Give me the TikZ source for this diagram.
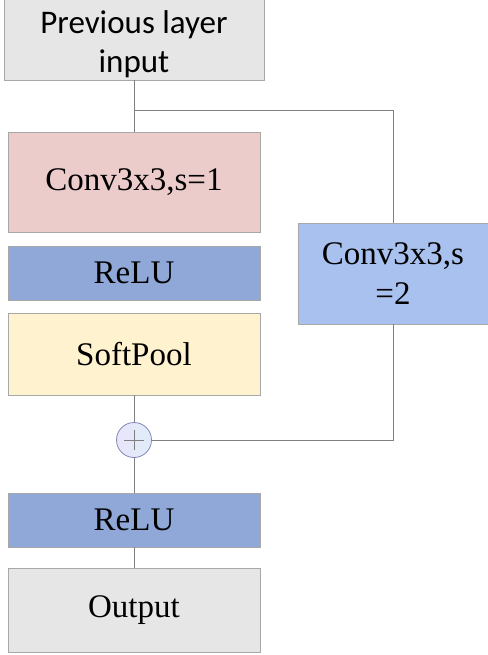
\documentclass[tikz,border=0pt]{standalone}
\usepackage{fontspec}
\setmainfont{Liberation Serif}
\newfontfamily\labelsans{Carlito}
\definecolor{boxgray}{RGB}{231, 230, 230}
\definecolor{convpink}{RGB}{236, 203, 203}
\definecolor{relublue}{RGB}{143, 168, 216}
\definecolor{poolyellow}{RGB}{255, 242, 206}
\definecolor{convblue}{RGB}{169, 193, 238}
\definecolor{edgegray}{RGB}{168, 168, 168}
\definecolor{linegray}{RGB}{128, 128, 128}
\definecolor{addlav}{RGB}{234, 228, 250}
\definecolor{addsky}{RGB}{222, 238, 250}
\usepackage{tikz}

\begin{document}
\begin{tikzpicture}[x=1pt, y=-1pt,
  block/.style={draw=edgegray, line width=0.8pt, inner sep=0pt, align=center,
    font=\fontsize{33}{40}\selectfont},
  link/.style={draw=linegray, line width=0.9pt}]
  \useasboundingbox (0,0) rectangle (487,655);

  % main path
  \node[block, fill=boxgray, minimum width=260pt, minimum height=86pt,
    font=\labelsans\fontsize{33}{39}\selectfont] (prev) at (134, 37)
    {\raisebox{-14pt}[0pt][0pt]{\begin{tabular}{@{}c@{}}Previous layer\\input\end{tabular}}};
  \node[block, fill=convpink, minimum width=252pt, minimum height=100pt] (conv1) at (134, 182) {Conv3x3,s=1};
  \node[block, fill=relublue, minimum width=252pt, minimum height=54pt] (relu1) at (134, 273) {ReLU};
  \node[block, fill=poolyellow, minimum width=252pt, minimum height=82pt] (pool) at (134, 354) {SoftPool};
  \node[circle, draw=edgegray!80!blue, line width=0.8pt, left color=addlav, right color=addsky,
    minimum size=35pt, inner sep=0pt] (add) at (134, 440) {};
  \node[block, fill=relublue, minimum width=252pt, minimum height=54pt] (relu2) at (134, 520) {ReLU};
  \node[block, fill=boxgray, minimum width=252pt, minimum height=84pt] (out) at (134, 610) {Output};

  % shortcut
  \node[block, fill=convblue, minimum width=190pt, minimum height=101pt] (conv2) at (393, 273.5) {Conv3x3,s\\=2};
  \coordinate (split) at (134, 110);

  % plus sign
  \draw[linegray, line width=1pt] (add.center) ++(-10,0) -- ++(20,0);
  \draw[linegray, line width=1pt] (add.center) ++(0,-10) -- ++(0,20);

  % connectors
  \draw[link] (prev) -- (conv1);
  \draw[link] (split) -| (conv2);
  \draw[link] (pool) -- (add);
  \draw[link] (conv2) |- (add);
  \draw[link] (add) -- (relu2);
  \draw[link] (relu2) -- (out);
\end{tikzpicture}
\end{document}
